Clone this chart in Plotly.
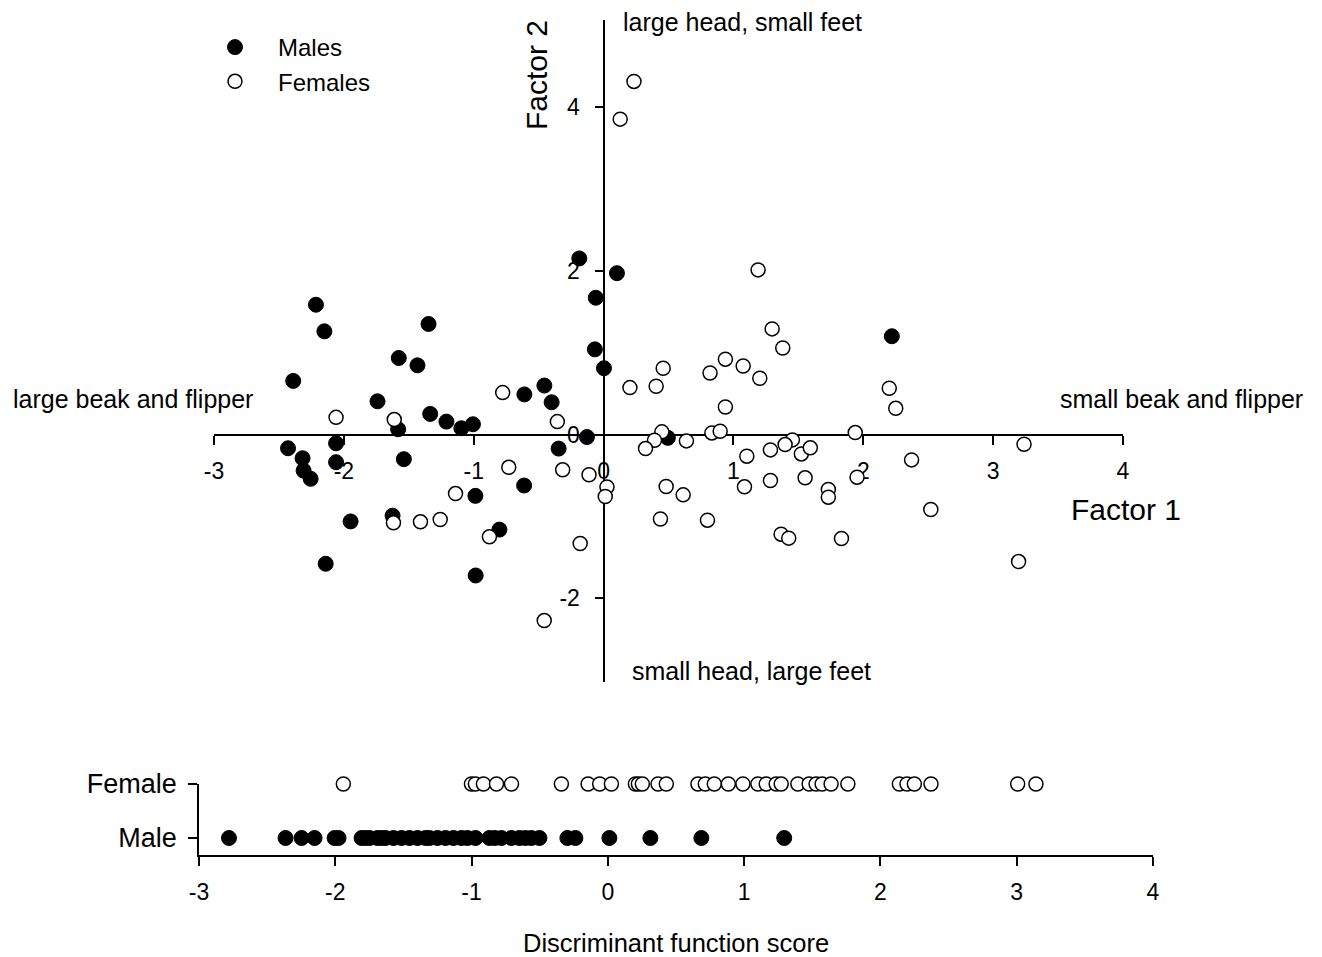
import plotly.graph_objects as go

# ---------------- data ----------------
male_f1 = [-0.187, 0.103, -0.06, -2.215, -2.15, -1.348, -0.067, 0.003, -1.577, -1.433,
           -2.39, -1.741, -0.456, -0.40, -0.61, -1.335, -1.21, -1.095, -1.006, -1.582,
           -0.128, -2.43, -2.06, -2.318, -2.31, -2.256, -2.06, -1.538, -0.346, -0.612,
           -0.987, -1.948, -1.625, -0.802, -2.14, -0.985, 0.495, 2.22]
male_f2 = [2.15, 1.97, 1.67, 1.585, 1.26, 1.35, 1.04, 0.81, 0.935, 0.845,
           0.655, 0.406, 0.598, 0.394, 0.49, 0.252, 0.158, 0.077, 0.126, 0.065,
           -0.03, -0.167, -0.106, -0.289, -0.44, -0.54, -0.337, -0.30, -0.171, -0.622,
           -0.748, -1.06, -0.99, -1.16, -1.577, -1.72, -0.04, 1.2]

female_f1 = [-0.777, -2.06, -1.612, -0.356, -0.73, -0.315, -0.112, 0.026, 0.013, -1.14,
             -1.618, -1.41, -1.258, -0.879, -0.18, -0.457, 0.234, 0.128, 1.19, 1.298,
             1.38, 0.459, 0.82, 0.938, 1.075, 1.203, 0.203, 0.405, 0.938, 2.2,
             2.25, 0.449, 0.392, 0.323, 0.638, 0.834, 0.898, 1.938, 1.454, 1.398,
             1.285, 1.523, 1.592, 1.103, 3.238, 2.372, 0.482, 0.613, 1.085, 1.285,
             1.552, 1.731, 1.731, 1.952, 0.438, 0.80, 1.367, 1.426, 1.832, 2.52, 3.196]
female_f2 = [0.512, 0.21, 0.183, 0.158, -0.40, -0.43, -0.49, -0.64, -0.756, -0.72,
             -1.077, -1.065, -1.037, -1.248, -1.33, -2.27, 4.31, 3.85, 2.01, 1.29,
             1.057, 0.81, 0.752, 0.92, 0.837, 0.687, 0.573, 0.59, 0.337, 0.565,
             0.32, 0.033, -0.069, -0.171, -0.077, 0.02, 0.04, 0.024, -0.065, -0.122,
             -0.187, -0.236, -0.162, -0.264, -0.118, -0.309, -0.634, -0.736, -0.638, -0.561,
             -0.528, -0.671, -0.764, -0.52, -1.03, -1.045, -1.216, -1.264, -1.268, -0.915, -1.55]

male_score = [-2.78, -2.365, -2.247, -2.152, -2.005, -1.976, -1.807, -1.778, -1.749, -1.690,
              -1.661, -1.632, -1.573, -1.514, -1.456, -1.397, -1.338, -1.309, -1.250, -1.191,
              -1.133, -1.074, -1.03, -0.971, -0.869, -0.83, -0.781, -0.708, -0.649, -0.605,
              -0.561, -0.502, -0.297, -0.238, 0.011, 0.312, 0.686, 1.294]
female_score = [-1.941, -1.001, -0.972, -0.913, -0.817, -0.707, -0.341, -0.145, -0.060, 0.026,
                0.202, 0.224, 0.253, 0.368, 0.429, 0.661, 0.715, 0.781, 0.884, 0.991,
                1.101, 1.162, 1.235, 1.272, 1.394, 1.477, 1.528, 1.572, 1.638, 1.761,
                2.139, 2.195, 2.249, 2.371, 3.007, 3.141]

group_labels = ["Male", "Female"]
x_tick_vals = [-3, -2, -1, 0, 1, 2, 3, 4]
x_tick_text = ["-3", "-2", "-1", "0", "1", "2", "3", "4"]
y_tick_vals = [-2, 0, 2, 4]
y_tick_text = ["-2", "0", "2", "4"]

# ---------------- figure ----------------
FONT = "Liberation Sans, Arial, sans-serif"
W, H = 1322, 957

fill_marker = dict(symbol="circle", size=15, color="black", line=dict(color="black", width=1))
open_marker = dict(symbol="circle", size=14, color="white", line=dict(color="black", width=1.5))

fig = go.Figure()
fig.add_trace(go.Scatter(x=male_f1, y=male_f2, mode="markers", name="Males",
                         marker=fill_marker, xaxis="x", yaxis="y", cliponaxis=False))
fig.add_trace(go.Scatter(x=female_f1, y=female_f2, mode="markers", name="Females",
                         marker=open_marker, xaxis="x", yaxis="y", cliponaxis=False))
# invisible trace so that the overlay (crossing) axes are drawn
fig.add_trace(go.Scatter(x=[0], y=[0], mode="markers", marker=dict(opacity=0),
                         xaxis="x2", yaxis="y2", showlegend=False, hoverinfo="skip"))
fig.add_trace(go.Scatter(x=female_score, y=[1] * len(female_score), mode="markers",
                         marker=open_marker, xaxis="x3", yaxis="y3", showlegend=False,
                         cliponaxis=False))
fig.add_trace(go.Scatter(x=male_score, y=[0] * len(male_score), mode="markers",
                         marker=fill_marker, xaxis="x3", yaxis="y3", showlegend=False,
                         cliponaxis=False))

xr = [-3, 4]
yr = [-3.02, 5.06]
xdom = [214 / W, 1123 / W]
ydom = [1 - 682 / H, 1 - 20 / H]
pos_x0 = 603.5 / W          # paper x where Factor 1 = 0
pos_y0 = 1 - 434.5 / H      # paper y where Factor 2 = 0

tickfont = dict(family=FONT, size=23, color="black")

fig.update_layout(
    width=W, height=H, autosize=False,
    margin=dict(l=0, r=0, t=0, b=0, pad=0, autoexpand=False),
    template="none",
    paper_bgcolor="white", plot_bgcolor="white",
    font=dict(family=FONT, color="black"),
    showlegend=True,
    legend=dict(x=192 / W, y=1 - 25 / H, xanchor="left", yanchor="top",
                font=dict(family=FONT, size=24, color="black"),
                bgcolor="rgba(0,0,0,0)", itemwidth=76, tracegroupgap=0),
    xaxis=dict(domain=xdom, range=xr, anchor="y", showgrid=False, showline=False,
               showticklabels=False, ticks="", zeroline=True, zerolinecolor="black",
               zerolinewidth=1.5, automargin=False),
    yaxis=dict(domain=ydom, range=yr, anchor="x", showgrid=False, showline=False,
               showticklabels=False, ticks="", zeroline=True, zerolinecolor="black",
               zerolinewidth=1.5, automargin=False),
    xaxis2=dict(overlaying="x", anchor="free", position=pos_y0, range=xr, side="bottom",
                tickvals=x_tick_vals, ticktext=x_tick_text, ticks="outside", ticklen=9,
                tickwidth=1.5, tickcolor="black", showline=False, showgrid=False,
                zeroline=False, tickfont=tickfont, ticklabelstandoff=7,
                layer="below traces", automargin=False),
    yaxis2=dict(overlaying="y", anchor="free", position=pos_x0, range=yr, side="left",
                tickvals=y_tick_vals, ticktext=y_tick_text, ticks="outside", ticklen=9,
                tickwidth=1.5, tickcolor="black", showline=False, showgrid=False,
                zeroline=False, tickfont=tickfont, ticklabelstandoff=10,
                layer="below traces", automargin=False),
    xaxis3=dict(domain=[199 / W, 1153 / W], range=xr, anchor="y3", showgrid=False,
                showline=True, linecolor="black", linewidth=1.5, zeroline=False,
                tickvals=x_tick_vals, ticktext=x_tick_text, ticks="outside", ticklen=9,
                tickwidth=1.5, tickcolor="black", tickfont=tickfont, ticklabelstandoff=7,
                automargin=False),
    yaxis3=dict(domain=[1 - 855 / H, 1 - 784 / H], range=[-0.315, 1.0], anchor="x3",
                showgrid=False, showline=True, linecolor="black", linewidth=1.5,
                zeroline=False, tickvals=[0, 1], ticktext=group_labels, ticks="outside",
                ticklen=9, tickwidth=1.5, tickcolor="black",
                tickfont=dict(family=FONT, size=27, color="black"), ticklabelstandoff=6,
                automargin=False),
)

ann_font = dict(family=FONT, size=25, color="black")
big_font = dict(family=FONT, size=30, color="black")
annotations = [
    dict(text="large head, small feet", x=742 / W, y=1 - 22 / H, font=ann_font),
    dict(text="small head, large feet", x=751 / W, y=1 - 671 / H, font=ann_font),
    dict(text="large beak and flipper", x=133 / W, y=1 - 399 / H, font=ann_font),
    dict(text="small beak and flipper", x=1181 / W, y=1 - 399 / H, font=ann_font),
    dict(text="Factor 1", x=1126 / W, y=1 - 509 / H, font=big_font),
    dict(text="Factor 2", x=537 / W, y=1 - 75 / H, font=big_font, textangle=-90),
    dict(text="Discriminant function score", x=676 / W, y=1 - 943 / H,
         font=dict(family=FONT, size=25.5, color="black")),
]
for a in annotations:
    a.update(xref="paper", yref="paper", showarrow=False, xanchor="center", yanchor="middle")
fig.update_layout(annotations=annotations)

post = ("document.documentElement.style.margin='0';document.body.style.margin='0';"
        "document.body.style.padding='0';document.body.style.overflow='hidden';")
fig.write_html("out.html", config={"responsive": False, "displayModeBar": False},
               post_script=post)
